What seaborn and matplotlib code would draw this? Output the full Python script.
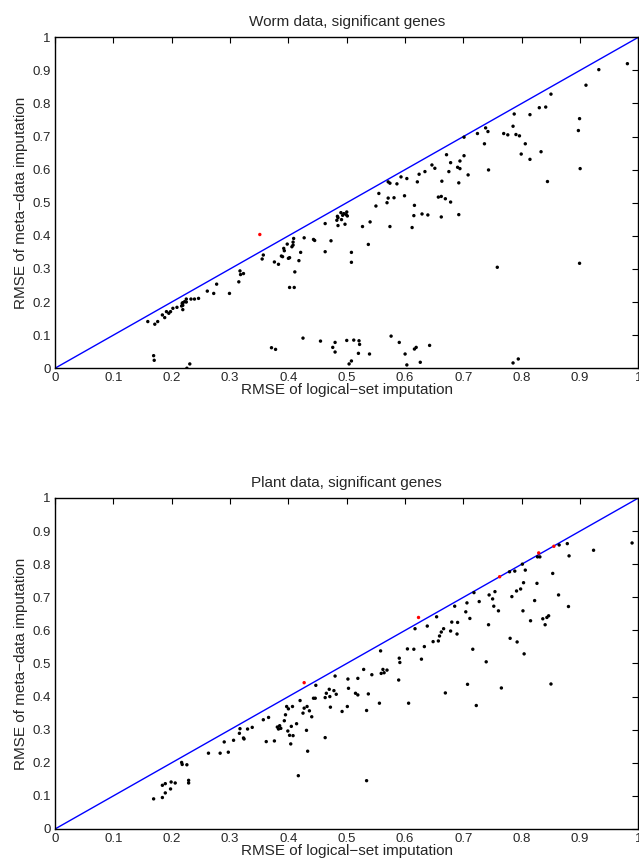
import matplotlib
matplotlib.use("Agg")
import matplotlib.pyplot as plt
import seaborn as sns
import pandas as pd
import numpy as np

# ---------------- data ----------------
worm_x = [0.159, 0.171, 0.176, 0.184, 0.188, 0.191, 0.195, 0.198, 0.202, 0.209, 0.217, 0.218, 0.219, 0.219,
          0.219, 0.222, 0.225, 0.225, 0.233, 0.239, 0.246, 0.261, 0.272, 0.277, 0.299, 0.315, 0.317, 0.318,
          0.323, 0.355, 0.357, 0.376, 0.383, 0.388, 0.390, 0.392, 0.393, 0.398, 0.400, 0.402, 0.406, 0.408,
          0.409, 0.408, 0.411, 0.402, 0.410, 0.418, 0.421, 0.427, 0.443, 0.445, 0.463, 0.463, 0.473, 0.483,
          0.485, 0.485, 0.490, 0.491, 0.495, 0.497, 0.499, 0.500, 0.501, 0.493, 0.484, 0.508, 0.508, 0.527,
          0.537, 0.540, 0.550, 0.555, 0.569, 0.571, 0.571, 0.574, 0.574, 0.581, 0.586, 0.593, 0.599, 0.603,
          0.612, 0.615, 0.616, 0.621, 0.624, 0.629, 0.634, 0.639, 0.646, 0.651, 0.657, 0.662, 0.662, 0.663,
          0.669, 0.671, 0.675, 0.678, 0.678, 0.690, 0.692, 0.692, 0.694, 0.694, 0.701, 0.701, 0.708, 0.724,
          0.736, 0.738, 0.742, 0.743, 0.758, 0.769, 0.776, 0.785, 0.787, 0.790, 0.796, 0.799, 0.806, 0.814,
          0.814, 0.830, 0.841, 0.833, 0.844, 0.850, 0.897, 0.899, 0.900, 0.899, 0.910, 0.932, 0.981,
          0.169, 0.170, 0.226, 0.231, 0.371, 0.378, 0.425, 0.455, 0.476, 0.480, 0.480, 0.500, 0.504, 0.508,
          0.512, 0.521, 0.522, 0.520, 0.539, 0.576, 0.590, 0.600, 0.603, 0.616, 0.619, 0.626, 0.642, 0.785,
          0.794]
worm_y = [0.141, 0.133, 0.141, 0.161, 0.153, 0.171, 0.166, 0.171, 0.181, 0.184, 0.188, 0.196, 0.198, 0.190,
          0.177, 0.201, 0.209, 0.200, 0.209, 0.209, 0.211, 0.233, 0.226, 0.254, 0.226, 0.261, 0.294, 0.283,
          0.286, 0.330, 0.342, 0.321, 0.314, 0.339, 0.337, 0.362, 0.355, 0.375, 0.332, 0.334, 0.367, 0.372,
          0.392, 0.381, 0.291, 0.244, 0.244, 0.325, 0.350, 0.394, 0.389, 0.386, 0.352, 0.437, 0.385, 0.447,
          0.455, 0.431, 0.470, 0.449, 0.467, 0.435, 0.464, 0.472, 0.460, 0.462, 0.459, 0.350, 0.320, 0.428,
          0.374, 0.442, 0.490, 0.528, 0.500, 0.514, 0.563, 0.559, 0.428, 0.515, 0.557, 0.578, 0.521, 0.573,
          0.425, 0.461, 0.492, 0.563, 0.586, 0.466, 0.594, 0.463, 0.614, 0.604, 0.517, 0.519, 0.457, 0.565,
          0.512, 0.645, 0.594, 0.621, 0.502, 0.607, 0.560, 0.464, 0.603, 0.626, 0.642, 0.698, 0.584, 0.709,
          0.678, 0.726, 0.715, 0.599, 0.305, 0.709, 0.705, 0.731, 0.768, 0.706, 0.702, 0.647, 0.678, 0.766,
          0.631, 0.787, 0.789, 0.654, 0.564, 0.828, 0.718, 0.754, 0.603, 0.317, 0.855, 0.902, 0.920,
          0.038, 0.024, 0.000, 0.013, 0.062, 0.057, 0.091, 0.082, 0.063, 0.078, 0.049, 0.084, 0.013, 0.022,
          0.085, 0.083, 0.072, 0.045, 0.043, 0.097, 0.078, 0.043, 0.010, 0.058, 0.063, 0.018, 0.069, 0.016,
          0.028]
worm_red_x = [0.351]
worm_red_y = [0.404]

plant_x = [0.169, 0.184, 0.184, 0.189, 0.189, 0.198, 0.199, 0.206, 0.217, 0.218, 0.226, 0.229, 0.229, 0.263,
           0.283, 0.290, 0.297, 0.306, 0.316, 0.317, 0.323, 0.324, 0.330, 0.338, 0.357, 0.362, 0.366, 0.376,
           0.381, 0.383, 0.385, 0.387, 0.393, 0.395, 0.397, 0.399, 0.400, 0.402, 0.404, 0.405, 0.407, 0.408,
           0.414, 0.417, 0.420, 0.425, 0.427, 0.431, 0.432, 0.433, 0.436, 0.440, 0.443, 0.446, 0.447, 0.463,
           0.463, 0.465, 0.470, 0.471, 0.472, 0.478, 0.480, 0.482, 0.492, 0.501, 0.503, 0.502, 0.515, 0.519,
           0.519, 0.529, 0.534, 0.534, 0.537, 0.543, 0.556, 0.558, 0.559, 0.562, 0.564, 0.569, 0.589, 0.590,
           0.591, 0.604, 0.606, 0.615, 0.617, 0.628, 0.633, 0.638, 0.648, 0.654, 0.657, 0.659, 0.662, 0.666,
           0.669, 0.678, 0.680, 0.685, 0.689, 0.690, 0.704, 0.706, 0.707, 0.711, 0.716, 0.718, 0.722, 0.727,
           0.739, 0.743, 0.744, 0.750, 0.752, 0.754, 0.760, 0.765, 0.779, 0.780, 0.783, 0.788, 0.791, 0.792,
           0.798, 0.801, 0.802, 0.803, 0.804, 0.806, 0.815, 0.822, 0.826, 0.827, 0.831, 0.836, 0.840, 0.843,
           0.846, 0.850, 0.853, 0.864, 0.863, 0.878, 0.881, 0.880, 0.923, 0.989]
plant_y = [0.091, 0.095, 0.132, 0.137, 0.109, 0.121, 0.142, 0.139, 0.201, 0.195, 0.194, 0.147, 0.139, 0.229,
           0.229, 0.263, 0.232, 0.268, 0.289, 0.303, 0.275, 0.272, 0.302, 0.307, 0.330, 0.264, 0.337, 0.266,
           0.308, 0.302, 0.312, 0.304, 0.327, 0.345, 0.370, 0.296, 0.363, 0.283, 0.257, 0.310, 0.370, 0.282,
           0.318, 0.161, 0.388, 0.350, 0.365, 0.298, 0.370, 0.235, 0.357, 0.339, 0.395, 0.395, 0.434, 0.276,
           0.397, 0.410, 0.422, 0.400, 0.368, 0.418, 0.462, 0.407, 0.355, 0.370, 0.425, 0.453, 0.410, 0.405,
           0.455, 0.482, 0.358, 0.146, 0.408, 0.466, 0.380, 0.538, 0.470, 0.482, 0.472, 0.480, 0.450, 0.516,
           0.503, 0.544, 0.380, 0.543, 0.605, 0.513, 0.551, 0.613, 0.566, 0.641, 0.568, 0.583, 0.595, 0.605,
           0.411, 0.598, 0.625, 0.673, 0.589, 0.624, 0.656, 0.683, 0.437, 0.636, 0.543, 0.714, 0.373, 0.687,
           0.505, 0.617, 0.707, 0.695, 0.673, 0.717, 0.659, 0.426, 0.777, 0.576, 0.702, 0.779, 0.719, 0.565,
           0.725, 0.800, 0.659, 0.744, 0.529, 0.782, 0.629, 0.690, 0.742, 0.822, 0.822, 0.635, 0.617, 0.639,
           0.644, 0.438, 0.772, 0.858, 0.707, 0.862, 0.825, 0.672, 0.842, 0.864]
plant_red_x = [0.427, 0.623, 0.762, 0.829, 0.855]
plant_red_y = [0.442, 0.639, 0.762, 0.834, 0.854]

ticks = [0, 0.1, 0.2, 0.3, 0.4, 0.5, 0.6, 0.7, 0.8, 0.9, 1]
tick_labels = ["0", "0.1", "0.2", "0.3", "0.4", "0.5", "0.6", "0.7", "0.8", "0.9", "1"]
titles = ["Worm data, significant genes", "Plant data, significant genes"]
xlabel = "RMSE of logical\u2212set imputation"
ylabel = "RMSE of meta\u2212data imputation"

# ---------------- style ----------------
sns.set_style("white")
plt.rcParams["font.family"] = ["Liberation Sans", "DejaVu Sans"]
plt.rcParams["xtick.direction"] = "in"
plt.rcParams["ytick.direction"] = "in"

fig = plt.figure(figsize=(6.39, 8.63), dpi=100)
positions = [[0.0861, 0.5733, 0.9131, 0.3836], [0.0861, 0.0394, 0.9131, 0.3836]]
datasets = [(worm_x, worm_y, worm_red_x, worm_red_y), (plant_x, plant_y, plant_red_x, plant_red_y)]

for pos, (bx, by, rx, ry), title in zip(positions, datasets, titles):
    ax = fig.add_axes(pos)
    df = pd.DataFrame({"x": bx + rx, "y": by + ry,
                       "grp": ["black"] * len(bx) + ["red"] * len(rx)})
    diag = pd.DataFrame({"x": [0, 1], "y": [0, 1]})
    sns.lineplot(data=diag, x="x", y="y", ax=ax, color="#0000ff", linewidth=1.0)
    sns.scatterplot(data=df, x="x", y="y", hue="grp", palette={"black": "black", "red": "red"},
                    ax=ax, s=6, linewidth=0, marker="o", legend=False, zorder=3)
    ax.set_xlim(0, 1)
    ax.set_ylim(0, 1)
    ax.set_xticks(ticks)
    ax.set_yticks(ticks)
    ax.set_xticklabels(tick_labels)
    ax.set_yticklabels(tick_labels)
    ax.tick_params(axis="both", which="both", direction="in", length=4, width=0.8,
                   labelsize=9.5, pad=3, top=True, right=True, color="black")
    for sp in ax.spines.values():
        sp.set_visible(True)
        sp.set_color("black")
        sp.set_linewidth(1.0)
    ax.set_title(title, fontsize=11, pad=8)
    ax.set_xlabel(xlabel, fontsize=11, labelpad=-1)
    ax.set_ylabel(ylabel, fontsize=11, labelpad=3)

fig.savefig("out.png", dpi=100)
